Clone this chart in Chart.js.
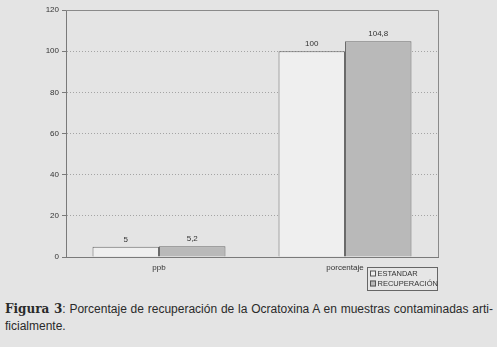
<!DOCTYPE html>
<html>
<head>
<meta charset="utf-8">
<script src="https://cdn.jsdelivr.net/npm/chart.js@4"></script>
<style>
  html, body { margin: 0; padding: 0; background: #e4e4e4; }
  #wrap { position: relative; width: 497px; height: 347px; overflow: hidden; }
  #box { position: absolute; left: 0; top: 0; width: 497px; height: 296px; }
  .cap { position: absolute; left: 5px; font-family: "Liberation Sans", Arial, sans-serif;
         font-size: 12px; color: #2a2a2a; white-space: nowrap; }
  .cap b { font-family: "DejaVu Serif", serif; font-weight: bold; font-size: 12px; }
  #l1 { top: 302px; }
  #l2 { top: 319px; }
</style>
</head>
<body>
<div id="wrap">
  <div id="box"><canvas id="myChart"></canvas></div>
  <div class="cap" id="l1"><b>Figura 3</b>: Porcentaje de recuperación de la Ocratoxina A en muestras contaminadas arti-</div>
  <div class="cap" id="l2">ficialmente.</div>
</div>
<script>
let label = ['ppb', 'porcentaje'];
let estandar = [5, 100];
let recuperacion = [5.2, 104.8];
let names = ['ESTANDAR', 'RECUPERACIÓN'];
let yTicks = [0, 20, 40, 60, 80, 100, 120];

// numbers with decimal comma like the original
const fmt = v => String(v).replace('.', ',');

// stretch first caption line to the full width (justified like the page)
const l1 = document.getElementById('l1');
const spaces = l1.textContent.split(' ').length - 1;
l1.style.wordSpacing = ((488 - l1.getBoundingClientRect().width) / spaces) + 'px';

const frame = {
    id: 'frame',
    beforeDatasetsDraw(c) {
        const a = c.chartArea, x = c.ctx;
        x.save();
        x.strokeStyle = '#8a8a8a';
        x.lineWidth = 1;
        x.beginPath();
        x.moveTo(a.left, a.top + 0.5);
        x.lineTo(a.right + 0.5, a.top + 0.5);
        x.lineTo(a.right + 0.5, a.bottom);
        x.stroke();
        x.restore();
    },
    afterDatasetsDraw(c) {
        const x = c.ctx;
        x.save();
        x.font = '8px "Liberation Sans", Arial';
        x.fillStyle = '#333';
        x.textAlign = 'center';
        x.textBaseline = 'bottom';
        c.data.datasets.forEach((ds, i) => {
            c.getDatasetMeta(i).data.forEach((bar, j) => {
                x.fillText(fmt(ds.data[j]), bar.x, bar.y - 3);
            });
        });
        // legend box
        const lx = 367, ly = 267, lw = 70, lh = 23;
        x.fillStyle = '#e6e6e6';
        x.fillRect(lx, ly, lw, lh);
        x.strokeStyle = '#666';
        x.strokeRect(lx + 0.5, ly + 0.5, lw, lh);
        x.textAlign = 'left';
        x.textBaseline = 'middle';
        x.font = '7.5px "Liberation Sans", Arial';
        c.data.datasets.forEach((ds, i) => {
            const yy = ly + 6.5 + i * 10;
            x.fillStyle = ds.backgroundColor;
            x.fillRect(lx + 3, yy - 3, 6, 6);
            x.strokeStyle = '#555';
            x.strokeRect(lx + 3.5, yy - 2.5, 5, 5);
            x.fillStyle = '#333';
            x.fillText(ds.label, lx + 10.5, yy + 0.5);
        });
        x.restore();
    }
};

let chart = {
    type: 'bar',
    data: {
        labels: label,
        datasets: [{
            label: names[0],
            data: estandar,
            backgroundColor: '#efefef',
            borderColor: '#6a6a6a',
            borderWidth: 1
        }, {
            label: names[1],
            data: recuperacion,
            backgroundColor: '#b9b9b9',
            borderColor: '#6a6a6a',
            borderWidth: 1
        }]
    },
    options: {
        responsive: false,
        animation: false,
        layout: { padding: { top: 10, right: 59, left: 0, bottom: 0 } },
        datasets: { bar: { categoryPercentage: 0.715, barPercentage: 1 } },
        plugins: { legend: { display: false }, tooltip: { enabled: false } },
        scales: {
            x: {
                grid: { display: false, drawTicks: false },
                border: { color: '#7a7a7a' },
                ticks: { color: '#333', font: { size: 8, family: '"Liberation Sans", Arial' }, padding: 6 },
                afterFit: s => { s.height = 39; }
            },
            y: {
                min: 0,
                max: 120,
                afterBuildTicks: s => { s.ticks = yTicks.map(v => ({ value: v })); },
                grid: { color: '#a4a4a4', tickColor: '#7a7a7a', tickLength: 4 },
                border: { color: '#7a7a7a', dash: [1, 2] },
                ticks: { color: '#333', font: { size: 8, family: '"Liberation Sans", Arial' }, padding: 3 },
                afterFit: s => { s.width = 66; }
            }
        }
    },
    plugins: [frame]
};

const ctx = document.getElementById('myChart');
ctx.width = 497;
ctx.height = 296;
const myChart = new Chart(ctx, chart);
</script>
</body>
</html>
